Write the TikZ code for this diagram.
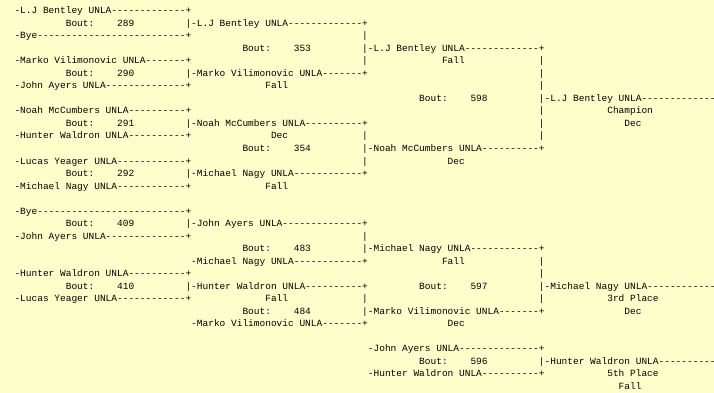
\documentclass[tikz,border=0pt]{standalone}
\usepackage{fontspec}
\setmonofont{Liberation Mono}
\usepackage{xcolor}
\usepackage{tikz}
\definecolor{paper}{HTML}{FFFFCC}
\def\bout{Bout:\ \ \ \ }

\begin{document}
\begin{tikzpicture}[x=5.7pt,y=-12.5pt,
  txt/.style={anchor=base west,inner sep=0pt,outer sep=0pt,font=\fontsize{9.5}{12.5}\selectfont\ttfamily}]
\useasboundingbox (-14.5pt,1.5pt) rectangle (699.5pt,-391.5pt);
\fill[paper] (-14.5pt,1.5pt) rectangle (699.5pt,-391.5pt);
% championship side
\draw[] (0,1) node[txt] (bentley289) {-L.J Bentley UNLA-------------+};
\draw[] (9,2) node[txt] (bout289) {\bout 289};
\draw[] (30,2) node[txt] (bentley353) {|-L.J Bentley UNLA-------------+};
\draw[] (0,3) node[txt] (bye289) {-Bye--------------------------+};
\draw[] (61,3) node[txt] (pipe353a) {|};
\draw[] (40,4) node[txt] (bout353) {\bout 353};
\draw[] (61,4) node[txt] (bentley598) {|-L.J Bentley UNLA-------------+};
\draw[] (0,5) node[txt] (marko290) {-Marko Vilimonovic UNLA-------+};
\draw[] (61,5) node[txt] (pipe353b) {|};
\draw[] (75,5) node[txt] (fall353) {Fall};
\draw[] (92,5) node[txt] (pipe598a) {|};
\draw[] (9,6) node[txt] (bout290) {\bout 290};
\draw[] (30,6) node[txt] (marko353) {|-Marko Vilimonovic UNLA-------+};
\draw[] (92,6) node[txt] (pipe598b) {|};
\draw[] (0,7) node[txt] (ayers290) {-John Ayers UNLA--------------+};
\draw[] (44,7) node[txt] (fall290) {Fall};
\draw[] (92,7) node[txt] (pipe598c) {|};
\draw[] (71,8) node[txt] (bout598) {\bout 598};
\draw[] (92,8) node[txt] (bentleyfirst) {|-L.J Bentley UNLA-------------+};
\draw[] (0,9) node[txt] (mccumbers291) {-Noah McCumbers UNLA----------+};
\draw[] (92,9) node[txt] (pipe598d) {|};
\draw[] (104,9) node[txt] (champion) {Champion};
\draw[] (9,10) node[txt] (bout291) {\bout 291};
\draw[] (30,10) node[txt] (mccumbers354) {|-Noah McCumbers UNLA----------+};
\draw[] (92,10) node[txt] (pipe598e) {|};
\draw[] (107,10) node[txt] (dec598) {Dec};
\draw[] (0,11) node[txt] (waldron291) {-Hunter Waldron UNLA----------+};
\draw[] (45,11) node[txt] (dec291) {Dec};
\draw[] (61,11) node[txt] (pipe354a) {|};
\draw[] (92,11) node[txt] (pipe598f) {|};
\draw[] (40,12) node[txt] (bout354) {\bout 354};
\draw[] (61,12) node[txt] (mccumbers598) {|-Noah McCumbers UNLA----------+};
\draw[] (0,13) node[txt] (yeager292) {-Lucas Yeager UNLA------------+};
\draw[] (61,13) node[txt] (pipe354b) {|};
\draw[] (76,13) node[txt] (dec354) {Dec};
\draw[] (9,14) node[txt] (bout292) {\bout 292};
\draw[] (30,14) node[txt] (nagy354) {|-Michael Nagy UNLA------------+};
\draw[] (0,15) node[txt] (nagy292) {-Michael Nagy UNLA------------+};
\draw[] (44,15) node[txt] (fall292) {Fall};
% consolation side
\draw[] (0,17) node[txt] (bye409) {-Bye--------------------------+};
\draw[] (9,18) node[txt] (bout409) {\bout 409};
\draw[] (30,18) node[txt] (ayers483) {|-John Ayers UNLA--------------+};
\draw[] (0,19) node[txt] (ayers409) {-John Ayers UNLA--------------+};
\draw[] (61,19) node[txt] (pipe483) {|};
\draw[] (40,20) node[txt] (bout483) {\bout 483};
\draw[] (61,20) node[txt] (nagy597) {|-Michael Nagy UNLA------------+};
\draw[] (31,21) node[txt] (nagy483) {-Michael Nagy UNLA------------+};
\draw[] (75,21) node[txt] (fall483) {Fall};
\draw[] (92,21) node[txt] (pipe597a) {|};
\draw[] (0,22) node[txt] (waldron410) {-Hunter Waldron UNLA----------+};
\draw[] (92,22) node[txt] (pipe597b) {|};
\draw[] (9,23) node[txt] (bout410) {\bout 410};
\draw[] (30,23) node[txt] (waldron484) {|-Hunter Waldron UNLA----------+};
\draw[] (71,23) node[txt] (bout597) {\bout 597};
\draw[] (92,23) node[txt] (nagythird) {|-Michael Nagy UNLA------------+};
\draw[] (0,24) node[txt] (yeager410) {-Lucas Yeager UNLA------------+};
\draw[] (44,24) node[txt] (fall410) {Fall};
\draw[] (61,24) node[txt] (pipe484) {|};
\draw[] (92,24) node[txt] (pipe597c) {|};
\draw[] (104,24) node[txt] (third) {3rd Place};
\draw[] (40,25) node[txt] (bout484) {\bout 484};
\draw[] (61,25) node[txt] (marko597) {|-Marko Vilimonovic UNLA-------+};
\draw[] (107,25) node[txt] (dec597) {Dec};
\draw[] (31,26) node[txt] (marko484) {-Marko Vilimonovic UNLA-------+};
\draw[] (76,26) node[txt] (dec484) {Dec};
\draw[] (62,28) node[txt] (ayers596) {-John Ayers UNLA--------------+};
\draw[] (71,29) node[txt] (bout596) {\bout 596};
\draw[] (92,29) node[txt] (waldronfifth) {|-Hunter Waldron UNLA----------+};
\draw[] (62,30) node[txt] (waldron596) {-Hunter Waldron UNLA----------+};
\draw[] (104,30) node[txt] (fifth) {5th Place};
\draw[] (106,31) node[txt] (fall596) {Fall};
\end{tikzpicture}
\end{document}
